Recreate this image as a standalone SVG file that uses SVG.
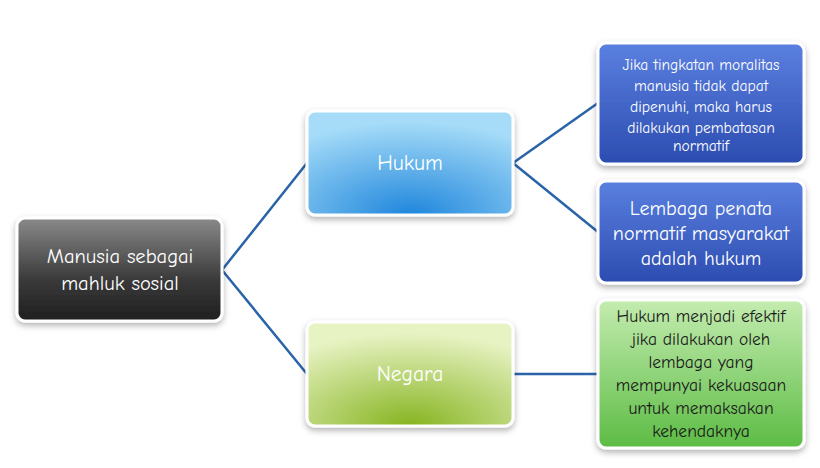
<svg xmlns="http://www.w3.org/2000/svg" width="820" height="468" viewBox="0 0 820 468">
<defs>
<linearGradient id="gGray" x1="0" y1="0" x2="0" y2="1"><stop offset="0" stop-color="#8a8a8a"/><stop offset="0.6" stop-color="#3a3a3a"/><stop offset="1" stop-color="#1e1e1e"/></linearGradient>
<radialGradient id="gBlue" cx="0.5" cy="1" r="0.9"><stop offset="0" stop-color="#1f86dc"/><stop offset="1" stop-color="#a6dcf8"/></radialGradient>
<radialGradient id="gGreen" cx="0.5" cy="1" r="0.9"><stop offset="0" stop-color="#86b420"/><stop offset="1" stop-color="#e8f3c4"/></radialGradient>
<linearGradient id="gDB" x1="0" y1="0" x2="0" y2="1"><stop offset="0" stop-color="#5a80e0"/><stop offset="1" stop-color="#2c4cb0"/></linearGradient>
<linearGradient id="gLG" x1="0" y1="0" x2="0" y2="1"><stop offset="0" stop-color="#c4ecb0"/><stop offset="1" stop-color="#5cbc44"/></linearGradient>
<filter id="sh" x="-10%" y="-10%" width="120%" height="130%"><feDropShadow dx="0" dy="3" stdDeviation="3" flood-color="#000" flood-opacity="0.3"/></filter>
</defs>
<style>
.b{stroke:#fff;stroke-width:3;filter:url(#sh)}
.t{font-family:"Comic Neue","Liberation Sans",sans-serif;fill:#fff;text-anchor:middle}
.c{stroke:#2a64a8;stroke-width:2.5;fill:none}
</style>
<g id="connectors">
<path class="c" d="M222 270 L307 163 M222 270 L307 374 M513 163 L598 103 M513 163 L598 232 M513 374 L598 374"/>
</g>
<g id="manusia"><rect class="b" x="17" y="218" width="205" height="103" rx="8" fill="url(#gGray)"/>
<text class="t" font-size="20.5" x="120" y="263">Manusia sebagai</text><text class="t" font-size="20.5" x="120" y="290">mahluk sosial</text></g>
<g id="hukum"><rect class="b" x="307" y="111" width="206" height="104" rx="8" fill="url(#gBlue)"/>
<text class="t" font-size="21.5" x="410" y="170">Hukum</text></g>
<g id="negara"><rect class="b" x="307" y="322" width="206" height="104" rx="8" fill="url(#gGreen)"/>
<text class="t" font-size="21.5" x="410" y="381">Negara</text></g>
<g id="jika"><rect class="b" x="598" y="43" width="206" height="121" rx="8" fill="url(#gDB)"/>
<text class="t" font-size="15.5"><tspan x="701" y="70">Jika tingkatan moralitas</tspan><tspan x="701" y="91">manusia tidak dapat</tspan><tspan x="701" y="112">dipenuhi, maka harus</tspan><tspan x="701" y="133">dilakukan pembatasan</tspan><tspan x="701" y="151">normatif</tspan></text></g>
<g id="lembaga"><rect class="b" x="598" y="181" width="206" height="102" rx="8" fill="url(#gDB)"/>
<text class="t" font-size="20"><tspan x="701" y="215">Lembaga penata</tspan><tspan x="701" y="240">normatif masyarakat</tspan><tspan x="701" y="265">adalah hukum</tspan></text></g>
<g id="efektif"><rect class="b" x="598" y="300" width="206" height="148" rx="8" fill="url(#gLG)"/>
<text class="t" font-size="17.5" style="fill:#1a1a1a"><tspan x="701" y="322">Hukum menjadi efektif</tspan><tspan x="701" y="345">jika dilakukan oleh</tspan><tspan x="701" y="368">lembaga yang</tspan><tspan x="701" y="391">mempunyai kekuasaan</tspan><tspan x="701" y="414">untuk memaksakan</tspan><tspan x="701" y="437">kehendaknya</tspan></text></g>
</svg>
